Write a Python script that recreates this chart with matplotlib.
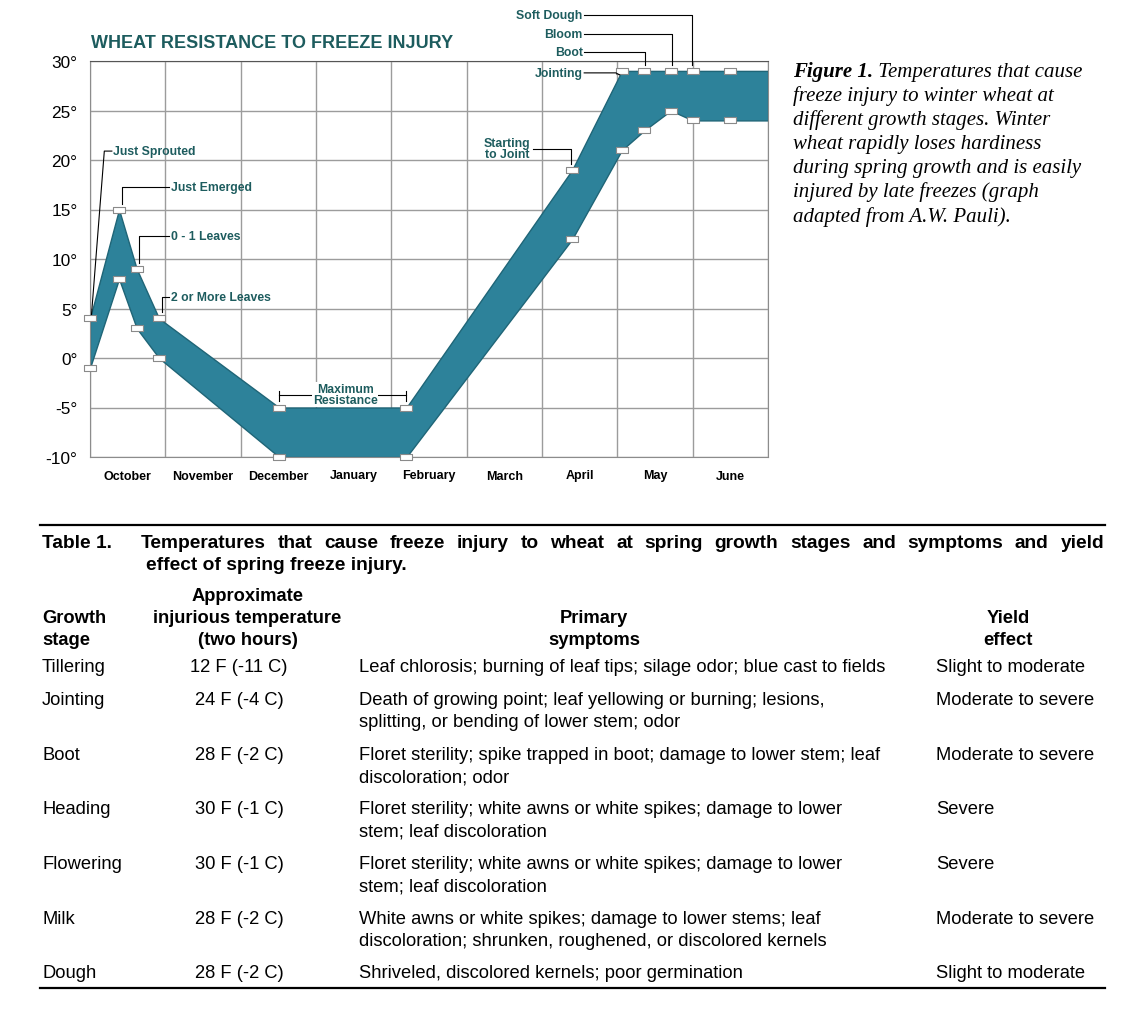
import matplotlib
matplotlib.use('Agg')
import numpy as np
import matplotlib.pyplot as plt
from matplotlib.lines import Line2D

W, H = 1131, 1012

# ---- chart data ----
months = ['October', 'November', 'December', 'January', 'February',
          'March', 'April', 'May', 'June']
temp_ticks = [-10, -5, 0, 5, 10, 15, 20, 25, 30]

# x in months counted from 1 October
stage_x = [0.0, 0.385, 0.62, 0.916, 2.51, 4.2, 6.4, 7.06, 7.36, 7.71, 8.0, 8.49, 9.0]
upper_t = [4, 15, 9, 4, -5, -5, 19, 29, 29, 29, 29, 29, 29]
lower_t = [-1, 8, 3, 0, -10, -10, 12, 21, 23, 25, 24, 24, 24]
has_marker = [1, 1, 1, 1, 1, 1, 1, 1, 1, 1, 1, 1, 0]

stage_names = ['Just Sprouted', 'Just Emerged', '0 - 1 Leaves', '2 or More Leaves',
               'Maximum\nResistance', 'Starting\nto Joint', 'Jointing', 'Boot',
               'Bloom', 'Soft Dough']

caption_head = 'Figure 1.'
caption_lines = [' Temperatures that cause',
                 'freeze injury to winter wheat at',
                 'different growth stages. Winter',
                 'wheat rapidly loses hardiness',
                 'during spring growth and is easily',
                 'injured by late freezes (graph',
                 'adapted from A.W. Pauli).']

# ---- table data ----
table_label = 'Table 1.'
table_title1 = 'Temperatures that cause freeze injury to wheat at spring growth stages and symptoms and yield'
table_title2 = 'effect of spring freeze injury.'
col_heads = ['Growth\nstage', 'Approximate\ninjurious temperature\n(two hours)',
             'Primary\nsymptoms', 'Yield\neffect']
stages = ['Tillering', 'Jointing', 'Boot', 'Heading', 'Flowering', 'Milk', 'Dough']
temps = ['12 F (-11 C)', '24 F (-4 C)', '28 F (-2 C)', '30 F (-1 C)',
         '30 F (-1 C)', '28 F (-2 C)', '28 F (-2 C)']
symptoms = ['Leaf chlorosis; burning of leaf tips; silage odor; blue cast to fields',
            'Death of growing point; leaf yellowing or burning; lesions,\nsplitting, or bending of lower stem; odor',
            'Floret sterility; spike trapped in boot; damage to lower stem; leaf\ndiscoloration; odor',
            'Floret sterility; white awns or white spikes; damage to lower\nstem; leaf discoloration',
            'Floret sterility; white awns or white spikes; damage to lower\nstem; leaf discoloration',
            'White awns or white spikes; damage to lower stems; leaf\ndiscoloration; shrunken, roughened, or discolored kernels',
            'Shriveled, discolored kernels; poor germination']
yield_effect = ['Slight to moderate', 'Moderate to severe', 'Moderate to severe',
                'Severe', 'Severe', 'Moderate to severe', 'Slight to moderate']

plt.rcParams['font.family'] = ['Liberation Sans', 'DejaVu Sans']

def fx(x):
    return x / W

def fy(y):
    return 1 - y / H

fig = plt.figure(figsize=(W / 100, H / 100), dpi=100)
ax = fig.add_axes([fx(90), fy(458), (768 - 90) / W, (458 - 62) / H])

teal = '#2d829a'
label_col = '#1d5c5e'

ax.fill_between(stage_x, lower_t, upper_t, color=teal, edgecolor='#1f6577', lw=1, zorder=2)

mx = [x for x, m in zip(stage_x, has_marker) if m]
box = [(-1, -0.6), (1, -0.6), (1, 0.6), (-1, 0.6), (-1, -0.6)]
for ys in (upper_t, lower_t):
    my = [y for y, m in zip(ys, has_marker) if m]
    ax.plot(mx, my, ls='none', marker=box, ms=8.3, mfc='white', mec='#8a8a8a',
            mew=0.8, zorder=4, clip_on=False)

ax.set_xlim(0, 9)
ax.set_ylim(-10, 30)
ax.set_xticks(np.arange(0, 10))
ax.set_xticklabels([])
ax.set_xticks(np.arange(0.5, 9), minor=True)
ax.set_xticklabels(months, minor=True, fontsize=9, fontweight='bold')
ax.set_yticks(temp_ticks)
ax.set_yticklabels([f'{t}°' for t in temp_ticks], fontsize=12.4)
ax.tick_params(axis='both', which='both', length=0)
ax.tick_params(axis='x', which='minor', pad=9)
ax.tick_params(axis='y', pad=9)
ax.grid(True, which='major', color='#9c9c9c', lw=1)
ax.set_axisbelow(True)
for s in ['left', 'right', 'bottom']:
    ax.spines[s].set_color('#8c8c8c')
ax.spines['top'].set_color('#555555')

fig.text(fx(91), fy(44), 'WHEAT RESISTANCE TO FREEZE INJURY', fontsize=13,
         fontweight='bold', color=label_col, va='center')

# stage labels with elbow leaders (data coords)
lab = dict(fontsize=8.8, fontweight='bold', color=label_col, va='center', clip_on=False)
leaders = [
    (0, (0.31, 20.9), 'left', [(0.29, 20.9), (0.19, 20.9), (0.02, 4.4)]),
    (1, (1.07, 17.3), 'left', [(1.05, 17.3), (0.42, 17.3), (0.42, 15.6)]),
    (2, (1.07, 12.35), 'left', [(1.05, 12.35), (0.645, 12.35), (0.645, 9.6)]),
    (3, (1.07, 6.15), 'left', [(1.05, 6.15), (0.95, 6.15), (0.95, 4.6)]),
    (5, (5.85, 21.15), 'right', [(5.88, 21.15), (6.38, 21.15), (6.38, 19.6)]),
    (6, (6.54, 28.8), 'right', [(6.56, 28.8), (6.98, 28.8), (7.03, 28.6)]),
    (7, (6.54, 30.88), 'right', [(6.56, 30.88), (7.37, 30.88), (7.37, 29.6)]),
    (8, (6.54, 32.76), 'right', [(6.56, 32.76), (7.72, 32.76), (7.72, 29.6)]),
    (9, (6.54, 34.68), 'right', [(6.56, 34.68), (7.99, 34.68), (7.99, 29.6)]),
]
for i, (tx, ty), ha, path in leaders:
    ax.text(tx, ty, stage_names[i], ha=ha, multialignment='center',
            linespacing=0.95, **lab)
    px, py = zip(*path)
    ax.plot(px, py, color='black', lw=0.8, clip_on=False, zorder=5)

# maximum resistance bracket
ax.plot([2.51, 4.2], [-3.75, -3.75], color='black', lw=0.8, zorder=3)
ax.plot([2.51, 2.51], [-3.3, -4.3], color='black', lw=0.8, zorder=3)
ax.plot([4.2, 4.2], [-3.3, -4.3], color='black', lw=0.8, zorder=3)
ax.text(3.39, -3.7, stage_names[4], ha='center', multialignment='center',
        linespacing=0.95, zorder=4,
        bbox=dict(facecolor='white', edgecolor='none', pad=0.5), **lab)

r = fig.canvas.get_renderer()

# caption
cap = dict(family='Liberation Serif', style='italic', fontsize=15, va='center')
t = fig.text(fx(793), fy(72), caption_head, fontweight='bold', **cap)
w = t.get_window_extent(r).width
for k, line in enumerate(caption_lines):
    x0 = 793 + (w if k == 0 else 0)
    fig.text(fx(x0), fy(72 + 24.1 * k), line, **cap)

# table
fig.add_artist(Line2D([fx(40), fx(1105)], [fy(526), fy(526)], color='black', lw=1.6))
fig.add_artist(Line2D([fx(40), fx(1105)], [fy(989), fy(989)], color='black', lw=1.6))

fig.text(fx(42), fy(543), table_label, fontsize=13.8, fontweight='bold', va='center')
words = table_title1.split()
wt = [fig.text(0, fy(543), s, fontsize=13.8, fontweight='bold', va='center') for s in words]
ww = [a.get_window_extent(r).width for a in wt]
gap = (1104 - 141 - sum(ww)) / (len(words) - 1)
x = 141
for a, wd in zip(wt, ww):
    a.set_x(fx(x))
    x += wd + gap
fig.text(fx(146), fy(566), table_title2, fontsize=13.8, fontweight='bold', va='center')

hd = dict(fontsize=13.2, fontweight='bold', va='bottom', linespacing=1.4)
fig.text(fx(42), fy(649), col_heads[0], ha='left', **hd)
fig.text(fx(247.5), fy(649), col_heads[1], ha='center', multialignment='center', **hd)
fig.text(fx(594), fy(649), col_heads[2], ha='center', multialignment='center', **hd)
fig.text(fx(1008), fy(649), col_heads[3], ha='center', multialignment='center', **hd)

row_y = [666, 699, 754, 808, 863, 918, 972]
bd = dict(fontsize=13.2, va='top', linespacing=1.42)
for k in range(len(stages)):
    y0 = fy(row_y[k] - 7)
    fig.text(fx(42), y0, stages[k], **bd)
    fig.text(fx(239), y0, temps[k], ha='center', **bd)
    fig.text(fx(359), y0, symptoms[k], **bd)
    fig.text(fx(936), y0, yield_effect[k], **bd)

fig.savefig('out.png', dpi=100)
